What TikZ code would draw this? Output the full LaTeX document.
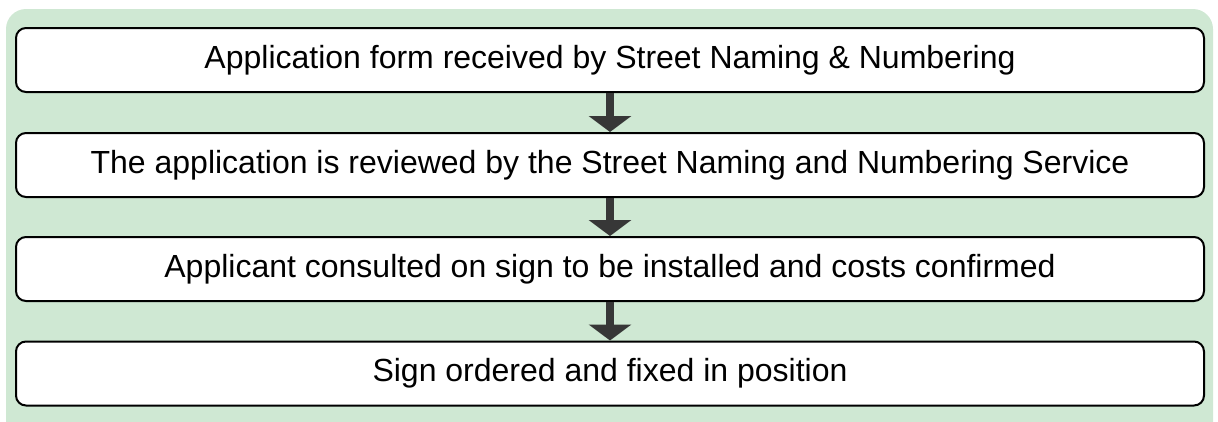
\documentclass[tikz,border=0pt]{standalone}
\usepackage{fontspec}
\setmainfont{Liberation Sans}
\usetikzlibrary{arrows.meta}
\definecolor{bggreen}{RGB}{207,232,211}
\definecolor{arrowgray}{RGB}{55,55,55}
\begin{document}
\begin{tikzpicture}[x=1pt,y=-1pt,
  stepbox/.style={draw=black, line width=2pt, fill=white, rounded corners=10pt,
    minimum width=1188pt, minimum height=64pt, inner sep=0pt,
    font=\fontsize{32}{38}\selectfont, text=black},
  flow/.style={draw=arrowgray, line width=8pt, -{Triangle[width=42pt,length=16pt]}}]
\useasboundingbox (0,0) rectangle (1218,421);
\fill[bggreen, rounded corners=20pt] (6,9) rectangle (1213,470);
\node[stepbox] (b1) at (610,60) {Application form received by Street Naming \& Numbering};
\node[stepbox] (b2) at (610,165) {The application is reviewed by the Street Naming and Numbering Service};
\node[stepbox] (b3) at (610,269) {Applicant consulted on sign to be installed and costs confirmed};
\node[stepbox] (b4) at (610,373.5) {Sign ordered and fixed in position};
\draw[flow] (b1.south) -- (b2.north);
\draw[flow] (b2.south) -- (b3.north);
\draw[flow] (b3.south) -- (b4.north);
\end{tikzpicture}
\end{document}
